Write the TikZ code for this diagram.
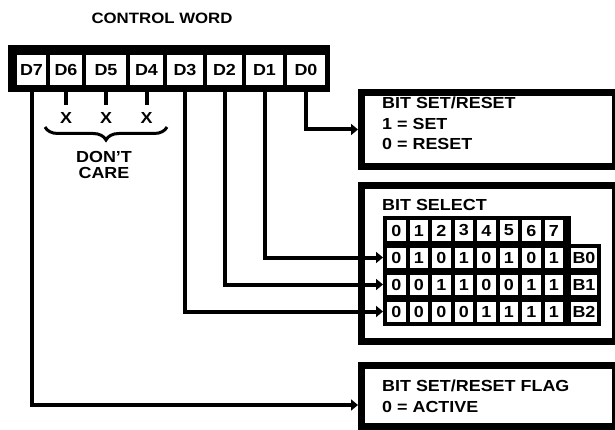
\documentclass[tikz,border=0pt]{standalone}
\usepackage{fontspec}
\setmainfont{Liberation Sans}[FakeStretch=1.12]
\usetikzlibrary{arrows.meta,positioning,decorations.pathreplacing}
\tikzset{
  lbl/.style     = {font=\fontsize{16}{16}\selectfont\bfseries, inner sep=0pt},
  dcell/.style   = {lbl, fill=white, minimum height=30pt},
  tcell/.style   = {lbl, fill=white, minimum width=18.5pt, minimum height=20pt},
  blk/.style     = {fill=black, inner sep=0pt, outer sep=0pt, anchor=north west},
  infobox/.style = {draw=black, line width=7pt, fill=white, inner sep=0pt, anchor=north west},
  wire/.style    = {line width=4pt, draw=black, -{Triangle[length=7pt,width=11pt]}},
  stub/.style    = {line width=4pt, draw=black},
  brc/.style     = {line width=3pt, decorate, decoration={brace, mirror, amplitude=13pt}}
}
\begin{document}
\begin{tikzpicture}[x=1pt, y=-1pt]
    \useasboundingbox (0,0) rectangle (615,430);
    \fill[white] (0,0) rectangle (615,430);
    \node[lbl, font=\fontsize{15}{15}\selectfont\bfseries] (title) at (162,18) {CONTROL WORD};
    \node[blk, minimum width=322pt, minimum height=47pt] (word) at (8,45) {};
    \foreach \n/\cx/\w in {7/31.5/29, 6/66/32, 5/106/40, 4/146.5/33, 3/185/36, 2/224.5/35, 1/264.5/37, 0/306/38}
      \node[dcell, minimum width=\w pt] (d\n) at (\cx,70) {D\n};
    \foreach \n in {6,5,4} {
      \node[lbl] (x\n) at (d\n |- 0,118) {X};
      \draw[stub] (d\n.south) -- ([yshift=7pt]x\n.north);
    }
    \draw[brc] (45,127) -- (167,127);
    \node[lbl, align=center] (dontcare) at (104,165) {DON'T\\CARE};
    \node[infobox, minimum width=254pt, minimum height=74pt] (setbox) at (358,89) {};
    \node[lbl, anchor=base west] (set1) at (382,109) {BIT SET/RESET};
    \node[lbl, anchor=base west] (set2) at (382,129.5) {1 = SET};
    \node[lbl, anchor=base west] (set3) at (382,150) {0 = RESET};
    \node[infobox, minimum width=254pt, minimum height=156pt] (selbox) at (358,182) {};
    \node[lbl, anchor=base west] (sel) at (382,211) {BIT SELECT};
    \node[blk, minimum width=188pt, minimum height=32pt] (headframe) at (383,216) {};
    \node[blk, minimum width=218pt, minimum height=81.5pt] (rowframe) at (383,244) {};
    \foreach \c in {0,...,7}
      \node[tcell] (h\c) at (396.25+22.5*\c,230.5) {\c};
    \foreach \r/\bits in {0/{0,1,0,1,0,1,0,1}, 1/{0,0,1,1,0,0,1,1}, 2/{0,0,0,0,1,1,1,1}} {
      \foreach \b [count=\c from 0] in \bits
        \node[tcell] (r\r c\c) at (396.25+22.5*\c,257.5+27*\r) {\b};
      \node[tcell, minimum width=26pt] (r\r b) at (584,257.5+27*\r) {B\r};
    }
    \node[infobox, minimum width=254pt, minimum height=61pt] (flagbox) at (358,362) {};
    \node[lbl, anchor=base west] (flag1) at (382,391) {BIT SET/RESET FLAG};
    \node[lbl, anchor=base west] (flag2) at (382,412) {0 = ACTIVE};
    \draw[wire] (d0.south) |- (setbox.west);
    \draw[wire] (d1.south) |- (r0c0 -| rowframe.west);
    \draw[wire] (d2.south) |- (r1c0 -| rowframe.west);
    \draw[wire] (d3.south) |- (r2c0 -| rowframe.west);
    \draw[wire] (d7.south) |- ([yshift=-9pt]flagbox.west);
  \end{tikzpicture}
\end{document}
